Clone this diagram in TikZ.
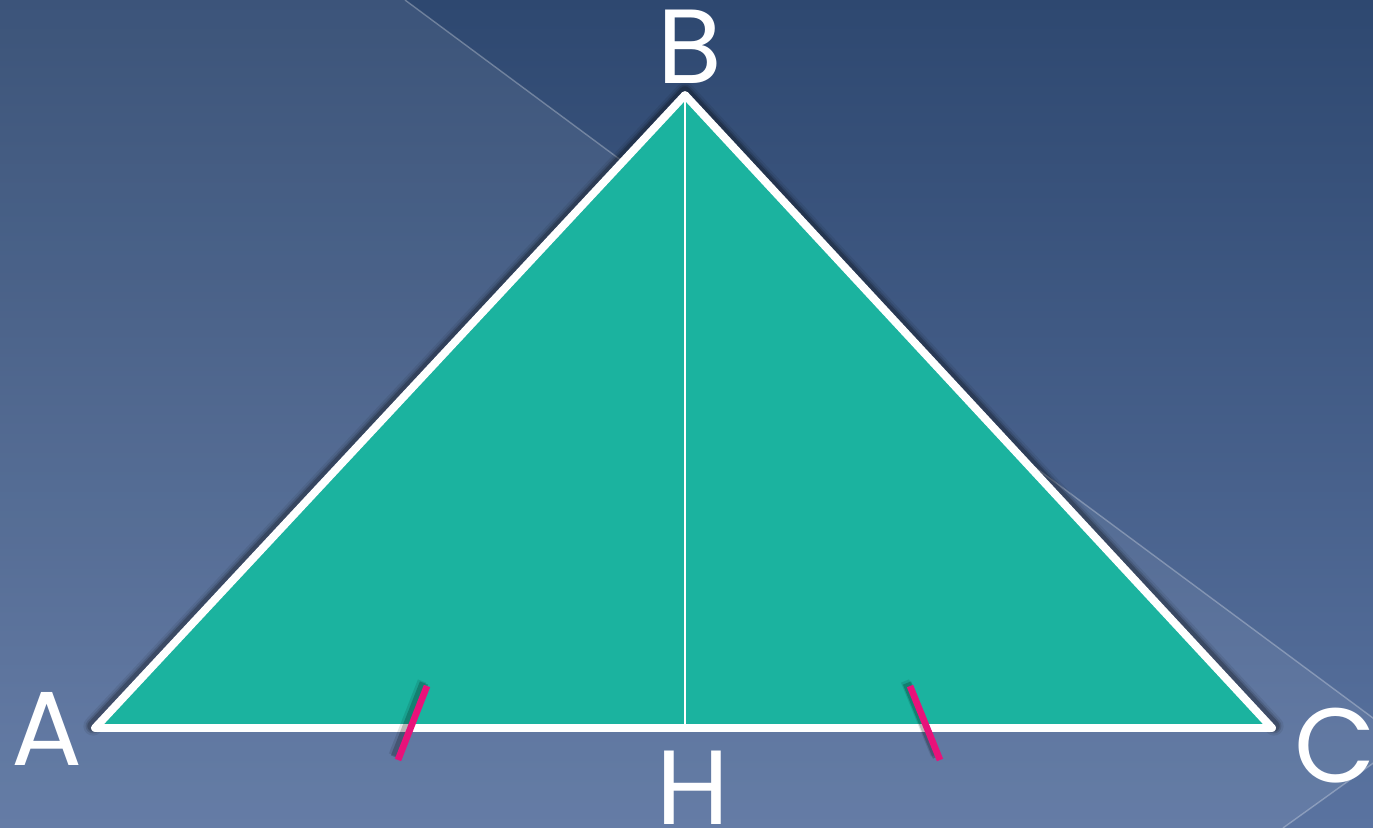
\documentclass[tikz,border=0pt]{standalone}
\usepackage{fontspec}
\newfontfamily\lblfont{Poppins}
\usetikzlibrary{calc}
\definecolor{bgtop}{HTML}{2E4870}
\definecolor{bgbot}{HTML}{5A73A0}
\definecolor{tri}{HTML}{1BB39F}
\definecolor{tickc}{HTML}{E8127A}
\tikzset{
  lbl/.style={text=white,font=\lblfont\fontsize{60}{60}\selectfont,inner sep=0pt,anchor=base},
  edge/.style={white,line width=4.5pt,line join=round,line cap=round},
  tickmark/.style={tickc,line width=3.8pt},
  tickshadow/.style={black,line width=5pt,opacity=0.18},
  guide/.style={white,opacity=0.28,line width=0.8pt}
}
\begin{document}
\begin{tikzpicture}[x=0.02cm,y=-0.02cm]
\useasboundingbox (0,0) rectangle (1373,828);
\shade[top color=bgtop,bottom color=bgbot] (0,0) rectangle (1373,828);
\fill[white,opacity=0.07] (405,0) -- (1404,741) -- (1283,828) -- (0,828) -- (0,0) -- cycle;
\draw[guide] (405,0) -- (1404,741) -- (1283,828);
\coordinate (A) at (95,728);
\coordinate (B) at (685,95);
\coordinate (C) at (1272,728);
\coordinate (H) at (685,728);
% shadow
\foreach \w/\o in {11pt/0.07,8.5pt/0.12,6.5pt/0.2}{
  \draw[black,opacity=\o,line width=\w,line join=round,line cap=round]
    ($(A)+(-2,-2)$) -- ($(B)+(0,-3)$) -- ($(C)+(2,-2)$);
}
\fill[tri] (A) -- (B) -- (C) -- cycle;
\draw[white,line width=1.1pt] (B) -- (H);
\draw[edge] (A) -- (B) -- (C) -- cycle;
% tick marks
\coordinate (t1a) at (398,760);
\coordinate (t1b) at (427,686);
\coordinate (t2a) at (910,686);
\coordinate (t2b) at (940,760);
\foreach \o/\s in {0.1/5,0.2/3}{
  \draw[tickshadow,opacity=\o] ($(t1a)+(-\s,-\s)$) -- ($(t1b)+(-\s,-\s)$);
  \draw[tickshadow,opacity=\o] ($(t2a)+(-\s,-\s)$) -- ($(t2b)+(-\s,-\s)$);
}
\draw[tickmark] (t1a) -- (t1b);
\draw[tickmark] (t2a) -- (t2b);
% labels
\node[lbl] (lA) at (47,765) {A};
\node[lbl] (lB) at (690,84) {B};
\node[lbl] (lH) at (693,824) {H};
\node[lbl] (lC) at (1335,782) {C};
\end{tikzpicture}
\end{document}
